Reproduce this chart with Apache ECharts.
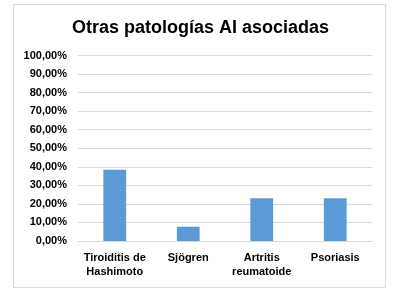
<!DOCTYPE html>
<html><head><meta charset="utf-8">
<script src="https://cdn.jsdelivr.net/npm/echarts@6/dist/echarts.min.js"></script>
<style>html,body{margin:0;padding:0;background:#fff}#c{width:401px;height:301px}</style>
</head><body><div id="c"></div>
<script>
const title = "Otras patologías AI asociadas";
const categories = ["Tiroiditis de\nHashimoto", "Sjögren", "Artritis\nreumatoide", "Psoriasis"];
const values = [38.46, 7.69, 23.08, 23.08];
const yMin = 0, yMax = 100, yStep = 10;

const chart = echarts.init(document.getElementById('c'), null, {renderer: 'canvas'});
chart.setOption({
  animation: false,
  backgroundColor: '#fff',
  graphic: [{
    type: 'rect', shape: {x: 13.5, y: 4.5, width: 372, height: 283},
    style: {fill: 'none', stroke: '#d9d9d9', lineWidth: 1}, silent: true
  }],
  title: {
    text: title, left: 'center', top: 14,
    textStyle: {fontFamily: 'Liberation Sans, Arial', fontSize: 18, fontWeight: 'bold', color: '#000'}
  },
  grid: {left: 78, right: 29, top: 55.5, bottom: 60},
  xAxis: {
    type: 'category', data: categories,
    axisLine: {lineStyle: {color: '#d9d9d9'}},
    axisTick: {show: false},
    axisLabel: {fontFamily: 'Liberation Sans, Arial', fontSize: 11, fontWeight: 'bold', color: '#000', lineHeight: 14, interval: 0, margin: 10}
  },
  yAxis: {
    type: 'value', min: yMin, max: yMax, interval: yStep,
    axisLine: {show: false}, axisTick: {show: false},
    splitLine: {lineStyle: {color: '#d9d9d9'}},
    axisLabel: {
      fontFamily: 'Liberation Sans, Arial', fontSize: 11, fontWeight: 'bold', color: '#000', margin: 11,
      formatter: v => v.toFixed(2).replace('.', ',') + '%'
    }
  },
  series: [{
    type: 'bar', data: values, barWidth: '31%',
    itemStyle: {color: '#5b9bd5'}
  }]
});
</script></body></html>
